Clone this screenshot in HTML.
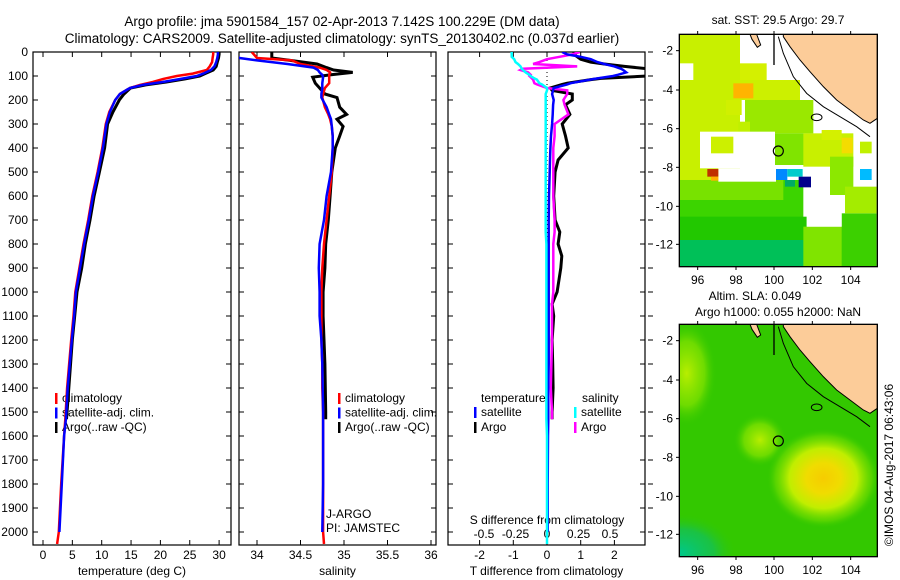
<!DOCTYPE html>
<html><head><meta charset="utf-8"><style>
html,body{margin:0;padding:0;background:#fff;}
svg{display:block;font-family:"Liberation Sans",sans-serif;}
</style></head><body>
<svg id="chart" width="900" height="580" viewBox="0 0 900 580" xmlns="http://www.w3.org/2000/svg">
<defs>
<clipPath id="c1"><rect x="33" y="52" width="198" height="493"/></clipPath>
<clipPath id="c2"><rect x="239" y="52" width="197" height="493"/></clipPath>
<clipPath id="c3"><rect x="448" y="52" width="197" height="493"/></clipPath>
<clipPath id="cm"><rect x="88" y="103" width="594" height="697"/></clipPath>
<radialGradient id="gY"><stop offset="0" stop-color="#f6cc00"/><stop offset="0.3" stop-color="#f0dc00"/><stop offset="0.6" stop-color="#c0ee00"/><stop offset="0.85" stop-color="#70dc00" stop-opacity="0.6"/><stop offset="1" stop-color="#33c800" stop-opacity="0"/></radialGradient>
<radialGradient id="gL"><stop offset="0" stop-color="#b8ee00"/><stop offset="0.6" stop-color="#88e400" stop-opacity="0.7"/><stop offset="1" stop-color="#33c800" stop-opacity="0"/></radialGradient>
<radialGradient id="gT"><stop offset="0" stop-color="#00c88a"/><stop offset="0.6" stop-color="#10c060" stop-opacity="0.7"/><stop offset="1" stop-color="#33c800" stop-opacity="0"/></radialGradient>
</defs>
<g font-size="13.5" text-anchor="middle">
<text x="342" y="26">Argo profile: jma 5901584_157 02-Apr-2013 7.142S 100.229E (DM data)</text>
<text x="342" y="43">Climatology: CARS2009. Satellite-adjusted climatology: synTS_20130402.nc (0.037d earlier)</text>
</g>
<g id="axes"></g>
<g id="plots"></g>
<g id="maps"></g>
<text x="0" y="0" font-size="12" text-anchor="middle" transform="translate(893,465) rotate(-90)">©IMOS 04-Aug-2017 06:43:06</text>
</svg>
<script>
// ---- data ----
const depthT = [0,10,25,42,60,75,90,100,112,125,137,150,175,200,250,300,400,500,600,700,800,900,1000,1100,1200,1400,1530,1600,1800,2000,2050];
const tempClim = [29.0,29.0,28.9,28.8,28.4,27.9,25.5,22.8,20.5,18.7,16.5,14.8,13.1,12.3,11.3,10.7,10.1,9.3,8.4,7.7,6.9,6.2,5.5,5.2,4.8,4.1,3.8,3.6,3.1,2.7,2.4];
const tempSat = [29.8,29.8,29.7,29.5,29.2,28.6,27.3,26.2,23.5,20.4,17.0,14.8,13.1,12.3,11.4,10.8,10.2,9.4,8.5,7.8,7.0,6.3,5.6,5.3,4.9,4.2,3.9,3.6,3.2,2.8,null];
const tempArgo = [30,30,29.9,29.7,29.5,29.0,27.6,26.7,24.2,21,17.5,14.9,13.8,13.0,11.9,11.0,10.5,9.6,8.7,8.0,7.2,6.6,5.8,5.4,5.0,4.4,4.0,null,null,null,null];
const depthS = [0,25,35,50,65,75,85,95,105,130,150,175,190,230,260,280,310,350,400,500,600,700,800,900,1000,1100,1200,1300,1400,1500,1530,1600,1800,2000,2050];
const salClim = [33.94,34.0,34.4,34.5,34.72,34.8,34.84,34.83,34.83,34.83,34.78,34.76,34.75,34.78,34.82,34.84,34.86,34.87,34.87,34.86,34.83,34.8,34.77,34.75,34.74,34.74,34.74,34.75,34.75,34.76,34.76,34.76,34.76,34.76,34.77];
const salSat = [33.7,33.8,34.0,34.35,34.65,34.7,34.72,34.75,34.76,34.75,34.75,34.74,34.74,34.8,34.83,34.85,34.86,34.87,34.87,34.85,34.8,34.77,34.72,34.71,34.72,34.72,34.74,34.75,34.755,34.76,34.76,34.76,34.76,34.75,null];
const salArgo = [34.17,34.17,34.38,34.69,34.8,34.88,35.1,34.85,34.64,34.67,34.72,34.78,34.92,34.95,35.03,34.92,34.99,34.95,34.9,34.86,34.84,34.82,34.79,34.78,34.76,34.76,34.77,34.78,34.785,34.79,34.79,null,null,null,null];
const depthD = [0,10,20,30,42,50,60,70,75,85,95,100,110,115,130,135,150,160,175,200,220,260,300,350,400,450,500,600,700,750,800,850,900,1000,1050,1100,1200,1300,1400,1500,1530,1600,1800,2000,2050];
const dTSat = [0.45,0.6,1.0,1.3,1.5,1.7,2.0,2.2,2.26,2.35,2.1,1.96,1.5,1.28,0.7,0.6,0.2,0.18,0.15,0.2,0.18,0.17,0.15,0.12,0.1,0.09,0.08,0.06,0.05,0.05,0.05,0.05,0.05,0.05,0.05,0.05,0.05,0.05,0.04,0.04,0.04,0.03,0.02,0.02,null];
const dTArgo = [0.8,0.8,0.9,1.0,1.3,1.7,2.3,3.0,3.4,3.5,3.2,3.0,1.6,1.3,0.6,0.45,0.1,0.15,0.75,0.75,0.55,0.68,0.45,0.55,0.63,0.33,0.24,0.2,0.24,0.38,0.33,0.44,0.41,0.3,0.15,0.2,0.15,0.17,0.18,0.15,0.15,null,null,null,null];
const dSSat = [-0.28,-0.28,-0.28,-0.26,-0.25,-0.23,-0.21,-0.2,-0.19,-0.17,-0.14,-0.13,-0.1,-0.08,-0.06,-0.04,0,0,-0.01,-0.01,-0.01,-0.01,-0.01,-0.01,-0.01,-0.01,-0.01,-0.01,-0.01,-0.01,-0.005,-0.005,-0.005,-0.005,-0.005,-0.005,-0.005,-0.005,-0.005,-0.005,-0.005,0,0,0,0];
const dSArgo = [0.26,0.2,0.1,0.0,-0.06,-0.11,0.24,-0.19,-0.21,-0.15,-0.13,-0.14,-0.12,-0.11,-0.1,-0.08,0,0.16,0.16,0.13,0.14,0.17,0.06,0.06,0.05,0.05,0.05,0.05,0.06,0.06,0.05,0.05,0.05,0.05,0.04,0.04,0.04,0.035,0.03,0.04,0.04,null,null,null,null];
const depthTicks = [0,100,200,300,400,500,600,700,800,900,1000,1100,1200,1300,1400,1500,1600,1700,1800,1900,2000];
const tempTicks = [0,5,10,15,20,25,30];
const salTicks = [34,34.5,35,35.5,36];
const dTTicks = [-2,-1,0,1,2];
const dSTicks = [-0.5,-0.25,0,0.25,0.5];
const dSTickLabels = ["-0.5","-0.25","0","0.25","0.5"];

// ---- scales ----
const yD = d => 52 + d*0.24;
const xT = t => 43 + t*5.87;
const xS = s => 257 + (s-34)*87;
const xDT = t => 547 + t*33.7;
const xDS = s => 547 + s*126;

const NS = "http://www.w3.org/2000/svg";
function mk(tag, attrs, parent){ const e=document.createElementNS(NS,tag); for(const k in attrs) e.setAttribute(k,attrs[k]); parent.appendChild(e); return e; }
const axes = document.getElementById('axes');
const plots = document.getElementById('plots');

const panels = [
 {x0:33,x1:231,name:'temperature',clip:'c1',ticks:tempTicks,labels:tempTicks.map(String),sx:xT,xlabel:'temperature (deg C)'},
 {x0:239,x1:436,name:'salinity',clip:'c2',ticks:salTicks,labels:salTicks.map(String),sx:xS,xlabel:'salinity'},
 {x0:448,x1:645,name:'difference',clip:'c3',ticks:dTTicks,labels:dTTicks.map(String),sx:xDT,xlabel:'T difference from climatology'}
];
panels.forEach(p=>{
  const f = mk('rect',{x:p.x0,y:52,width:p.x1-p.x0,height:493,fill:'none',stroke:'#000','stroke-width':1.2},axes);
  
  
  depthTicks.forEach(d=>{
    const y=yD(d);
    mk('line',{x1:p.x0,y1:y,x2:p.x0+5,y2:y,stroke:'#000'},axes);
    mk('line',{x1:p.x1-5,y1:y,x2:p.x1,y2:y,stroke:'#000'},axes);
  });
  p.ticks.forEach((t,i)=>{
    const x=p.sx(t);
    mk('line',{x1:x,y1:545,x2:x,y2:540,stroke:'#000'},axes);
    mk('line',{x1:x,y1:52,x2:x,y2:57,stroke:'#000'},axes);
    const tl = mk('text',{x:x,y:559,'font-size':12,'text-anchor':'middle'},axes);
    tl.textContent = p.labels[i];
    
    
  });
  const xl = mk('text',{x:(p.x0+p.x1)/2,y:575,'font-size':12,'text-anchor':'middle'},axes);
  xl.textContent = p.xlabel;
  
  
});
depthTicks.forEach(d=>{
  const t = mk('text',{x:28,y:yD(d)+4,'font-size':12,'text-anchor':'end'},axes);
  t.textContent = d;
  
  
  mk('line',{x1:648,y1:yD(d),x2:653,y2:yD(d),stroke:'#000'},axes);
});
dSTicks.forEach((s,i)=>{
  const t = mk('text',{x:xDS(s),y:538,'font-size':12,'text-anchor':'middle'},axes);
  t.textContent = dSTickLabels[i];
  
  
});
{
 const t = mk('text',{x:547,y:524,'font-size':12,'text-anchor':'middle'},axes);
 t.textContent='S difference from climatology';
 
 
}
mk('line',{x1:547,y1:52,x2:547,y2:545,stroke:'#000','stroke-dasharray':'1,3'},plots);

function line(depths, vals, sx, color, w, clip, name){
  const g = mk('g',{'clip-path':'url(#'+clip+')'},plots);
  
  
  let pts=[];
  const flush=()=>{ if(pts.length>1) mk('polyline',{points:pts.join(' '),fill:'none',stroke:color,'stroke-width':w,'stroke-linejoin':'miter'},g); pts=[]; };
  depths.forEach((d,i)=>{ const v=vals[i]; if(v===null){flush();return;} pts.push(sx(v).toFixed(1)+','+yD(d).toFixed(1)); });
  flush();
}
line(depthT,tempArgo,xT,'#000',3,'c1','argo-temperature-line');
line(depthT,tempClim,xT,'#f00',2.5,'c1','climatology-temperature-line');
line(depthT,tempSat,xT,'#00f',2.5,'c1','satellite-temperature-line');
line(depthS,salArgo,xS,'#000',3,'c2','argo-salinity-line');
line(depthS,salClim,xS,'#f00',2.5,'c2','climatology-salinity-line');
line(depthS,salSat,xS,'#00f',2.5,'c2','satellite-salinity-line');
line(depthD,dTArgo,xDT,'#000',3,'c3','argo-t-difference-line');
line(depthD,dSArgo,xDS,'#f0f',2.5,'c3','argo-s-difference-line');
line(depthD,dTSat,xDT,'#00f',2.5,'c3','satellite-t-difference-line');
line(depthD,dSSat,xDS,'#0ff',2.5,'c3','satellite-s-difference-line');

// legends
function leg(x,y,color,label,name){
  const r=mk('rect',{x:x,y:y-9,width:2.5,height:11,fill:color},axes);
  
  
  const t=mk('text',{x:x+7,y:y,'font-size':12},axes);
  t.textContent=label;
  
  
}
[[0,'#f00','climatology'],[1,'#00f','satellite-adj. clim.'],[2,'#000','Argo(..raw -QC)']].forEach(r=>{
  leg(55,402+r[0]*14.5,r[1],r[2],'temperature-legend-entry');
  leg(338,402+r[0]*14.5,r[1],r[2],'salinity-legend-entry');
});
{
 const t1=mk('text',{x:481,y:402,'font-size':12},axes); t1.textContent='temperature';
  
 const t2=mk('text',{x:582,y:402,'font-size':12},axes); t2.textContent='salinity';
  
 leg(474,416,'#00f','satellite','difference-legend-entry');
 leg(474,431,'#000','Argo','difference-legend-entry');
 leg(574,416,'#0ff','satellite','difference-legend-entry');
 leg(574,431,'#f0f','Argo','difference-legend-entry');
 const j1=mk('text',{x:326,y:518,'font-size':12},axes); j1.textContent='J-ARGO';
  
 const j2=mk('text',{x:326,y:532,'font-size':12},axes); j2.textContent='PI: JAMSTEC';
  
}

// ---- maps (coordinates in 3x map image units) ----
const sstCells = [
 [88,103,270,545,'#c8f000'],[270,190,350,250,'#d4f000'],[250,240,450,300,'#ccf000'],[228,300,275,345,'#d0f000'],
 [285,300,490,400,'#9ae800'],[265,365,300,400,'#c0f000'],[345,400,490,495,'#80e400'],[460,400,610,500,'#c8f000'],
 [515,390,575,420,'#d4f000'],[88,540,470,800,'#3cd400'],[88,540,400,600,'#78e200'],[88,650,470,800,'#22c800'],
 [88,720,470,800,'#00c058'],[460,680,580,800,'#80e400'],[575,640,680,800,'#3cd000'],[540,470,610,585,'#8ce800'],
 [585,560,680,640,'#a4ec00'],
 [150,395,375,505,'#ffffff'],[205,505,378,545,'#ffffff'],[460,520,540,650,'#ffffff'],[470,640,575,680,'#ffffff'],[88,190,130,240,'#ffffff'],
 [183,410,250,460,'#ccf000'],[575,413,608,460,'#f4dc00'],[630,425,665,460,'#c0f000'],
 [250,250,310,295,'#ffb400'],[172,507,205,530,'#c03000'],[183,530,205,542,'#ffb000'],[378,507,412,540,'#0088ff'],
 [412,507,458,530,'#00cccc'],[405,540,435,560,'#00aa66'],[446,530,483,562,'#00008b'],[630,507,665,540,'#00bbff']
];
const landPoly = [[400,103],[682,103],[682,355],[660,370],[640,360],[600,330],[560,300],[520,260],[480,215],[450,180],[420,140],[400,110]];
const islandPoly = [[300,103],[320,103],[332,135],[322,142],[306,118]];
const lonTicks = [96,98,100,102,104];
const lonTickPx = [143,258,372,487,602];
const latTicks = [-2,-4,-6,-8,-10,-12];
const latTickPx = [152,270,386,502,619,733];

const maps = document.getElementById('maps');
function buildMap(offY, name, isSST){
  const g = mk('g',{transform:'translate(650,'+offY+') scale(0.33333)'},maps);
  
  
  const inner = mk('g',{'clip-path':'url(#cm)'},g);
  if(isSST){
    mk('rect',{x:88,y:103,width:594,height:697,fill:'#fff'},inner);
    sstCells.forEach(c=>{
      const r=mk('rect',{x:c[0],y:c[1],width:c[2]-c[0],height:c[3]-c[1],fill:c[4]},inner);
      
      
    });
  } else {
    mk('rect',{x:88,y:103,width:594,height:697,fill:'#33c800'},inner);
    mk('ellipse',{cx:110,cy:250,rx:90,ry:160,fill:'url(#gL)'},inner);
    mk('ellipse',{cx:90,cy:790,rx:170,ry:120,fill:'url(#gT)'},inner);
    mk('ellipse',{cx:330,cy:450,rx:80,ry:80,fill:'url(#gL)'},inner);
    const b=mk('ellipse',{cx:520,cy:565,rx:170,ry:150,fill:'url(#gY)'},inner);
    
    
  }
  const land=mk('polygon',{points:landPoly.map(p=>p.join(',')).join(' '),fill:'#fccc99',stroke:'#000','stroke-width':3},inner);
  
  
  mk('polygon',{points:islandPoly.map(p=>p.join(',')).join(' '),fill:'#fccc99',stroke:'#000','stroke-width':3},inner);
  mk('polyline',{points:'385,110 400,160 430,230 470,280 520,320 570,350 620,380 660,410',fill:'none',stroke:'#000','stroke-width':3},inner);
  mk('ellipse',{cx:500,cy:352,rx:16,ry:10,fill:'none',stroke:'#000','stroke-width':3},inner);
  mk('line',{x1:372,y1:103,x2:372,y2:195,stroke:'#000','stroke-width':4},inner);
  const c=mk('circle',{cx:385,cy:453,r:15,fill:'none',stroke:'#000','stroke-width':3.5},inner);
  
  
  mk('rect',{x:88,y:103,width:594,height:697,fill:'none',stroke:'#000','stroke-width':4},g);
  lonTickPx.forEach((px,i)=>{
    mk('line',{x1:px,y1:800,x2:px,y2:810,stroke:'#000','stroke-width':3},g);
    mk('line',{x1:px,y1:103,x2:px,y2:93,stroke:'#000','stroke-width':3},g);
    const t=mk('text',{x:650+px/3,y:offY+284,'font-size':12,'text-anchor':'middle'},maps);
    t.textContent=lonTicks[i];
    
    
  });
  latTickPx.forEach((py,i)=>{
    mk('line',{x1:78,y1:py,x2:88,y2:py,stroke:'#000','stroke-width':3},g);
    const t=mk('text',{x:673,y:offY+py/3+4,'font-size':12,'text-anchor':'end'},maps);
    t.textContent=latTicks[i];
    
    
  });
}
buildMap(0,'sst-map',true);
buildMap(290,'sla-map',false);
[['sat. SST: 29.5  Argo: 29.7',24,'sst-map-title'],['Altim. SLA: 0.049',300,'sla-map-title'],['Argo h1000: 0.055 h2000: NaN',316,'sla-map-subtitle']].forEach(r=>{
  const t=mk('text',{x:r[2]==='sla-map-title'?755:778,y:r[1],'font-size':12,'text-anchor':'middle'},maps);
  t.textContent=r[0];
  
  
});
</script>
</body></html>
